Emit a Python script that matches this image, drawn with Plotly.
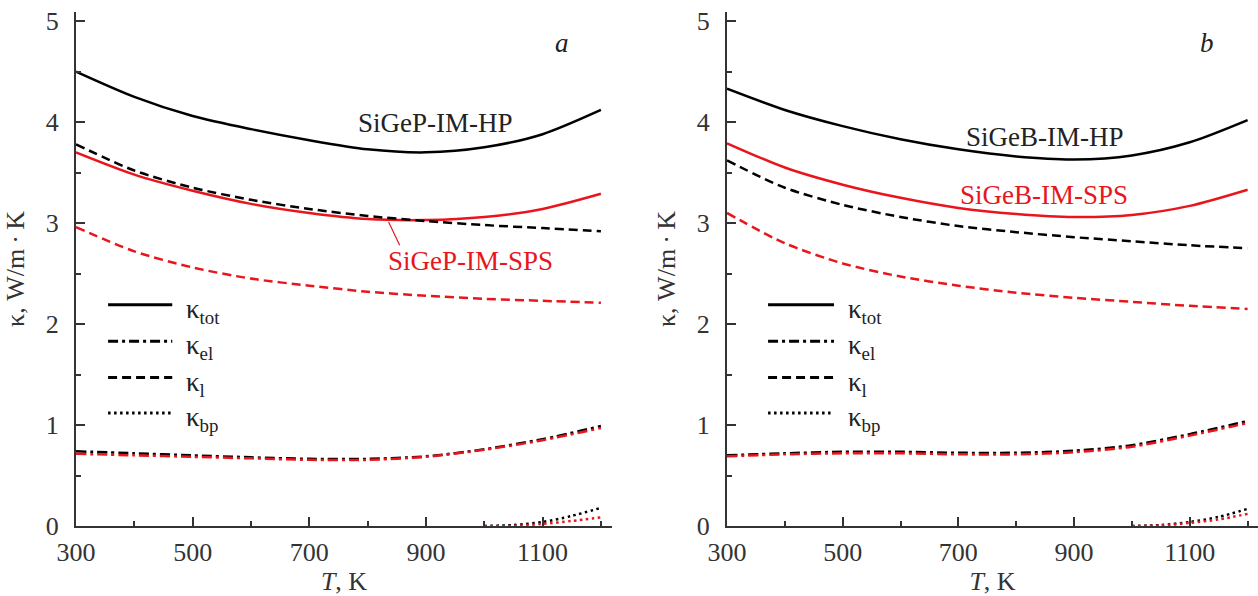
import plotly.graph_objects as go

# Temperature grid (K)
T = [300, 400, 500, 600, 700, 800, 900, 1000, 1100, 1200]
T_BP = [1000, 1050, 1100, 1150, 1200]

# Panel a: SiGeP (HP = black, SPS = red), W/(m K)
a_tot_hp = [4.50, 4.25, 4.06, 3.93, 3.82, 3.73, 3.70, 3.75, 3.88, 4.12]
a_tot_sps = [3.70, 3.48, 3.32, 3.19, 3.10, 3.04, 3.03, 3.06, 3.14, 3.29]
a_lat_hp = [3.78, 3.52, 3.35, 3.23, 3.14, 3.07, 3.02, 2.98, 2.95, 2.92]
a_lat_sps = [2.96, 2.72, 2.56, 2.45, 2.38, 2.32, 2.28, 2.25, 2.23, 2.21]
a_el_hp = [0.74, 0.72, 0.70, 0.68, 0.665, 0.665, 0.69, 0.76, 0.86, 0.99]
a_el_sps = [0.715, 0.70, 0.685, 0.67, 0.655, 0.655, 0.685, 0.755, 0.85, 0.97]
a_bp_hp = [0.0, 0.01, 0.04, 0.10, 0.18]
a_bp_sps = [0.0, 0.0, 0.02, 0.05, 0.085]

# Panel b: SiGeB
b_tot_hp = [4.33, 4.12, 3.96, 3.83, 3.73, 3.66, 3.63, 3.67, 3.80, 4.02]
b_tot_sps = [3.79, 3.55, 3.38, 3.25, 3.15, 3.09, 3.06, 3.08, 3.17, 3.33]
b_lat_hp = [3.62, 3.35, 3.18, 3.06, 2.97, 2.91, 2.86, 2.82, 2.78, 2.75]
b_lat_sps = [3.10, 2.80, 2.60, 2.47, 2.38, 2.31, 2.26, 2.22, 2.18, 2.15]
b_el_hp = [0.70, 0.72, 0.735, 0.735, 0.725, 0.725, 0.745, 0.80, 0.91, 1.04]
b_el_sps = [0.69, 0.71, 0.72, 0.72, 0.71, 0.71, 0.73, 0.785, 0.895, 1.02]
b_bp_hp = [0.0, 0.01, 0.04, 0.09, 0.17]
b_bp_sps = [0.0, 0.005, 0.03, 0.065, 0.12]

X_TICKS = [300, 500, 700, 900, 1100]
Y_TICKS = [0, 1, 2, 3, 4, 5]

BLACK = "#000000"
RED = "#e8161c"
AXIS = "#333333"
TEXT = "#222222"
FONT = "Liberation Serif"
LW = 2.5

DASH = {"tot": "solid", "el": "10px,4px,3px,4px", "lat": "9px,5px", "bp": "2.5px,3.5px"}

fig = go.Figure()


def add_curve(x, y, color, dash, axis):
    fig.add_trace(go.Scatter(
        x=x, y=y, mode="lines",
        line=dict(color=color, width=LW, dash=dash, shape="spline", smoothing=0.8),
        xaxis="x" if axis == 1 else "x2",
        yaxis="y" if axis == 1 else "y2",
        showlegend=False, hoverinfo="skip",
    ))


panels = [
    (1, a_tot_hp, a_tot_sps, a_lat_hp, a_lat_sps, a_el_hp, a_el_sps, a_bp_hp, a_bp_sps),
    (2, b_tot_hp, b_tot_sps, b_lat_hp, b_lat_sps, b_el_hp, b_el_sps, b_bp_hp, b_bp_sps),
]
for ax, tot_hp, tot_sps, lat_hp, lat_sps, el_hp, el_sps, bp_hp, bp_sps in panels:
    add_curve(T, tot_hp, BLACK, DASH["tot"], ax)
    add_curve(T, tot_sps, RED, DASH["tot"], ax)
    add_curve(T, lat_hp, BLACK, DASH["lat"], ax)
    add_curve(T, lat_sps, RED, DASH["lat"], ax)
    add_curve(T, el_hp, BLACK, DASH["el"], ax)
    add_curve(T, el_sps, RED, DASH["el"], ax)
    add_curve(T_BP, bp_hp, BLACK, DASH["bp"], ax)
    add_curve(T_BP, bp_sps, RED, DASH["bp"], ax)

H = 596.0
ydom = [1 - 526 / H, 1 - 12 / H]
tick_font = dict(family=FONT, size=26, color=AXIS)


def xaxis(domain, rng, anchor):
    return dict(
        domain=domain, range=rng, anchor=anchor,
        tickmode="array", tickvals=X_TICKS, ticktext=[str(v) for v in X_TICKS],
        ticks="inside", ticklen=9, tickwidth=1.5, tickcolor=AXIS,
        minor=dict(dtick=100, tick0=300, ticks="inside", ticklen=5, tickwidth=1.5, tickcolor=AXIS),
        showline=True, linecolor=AXIS, linewidth=2, showgrid=False, zeroline=False,
        tickfont=tick_font, ticklabelstandoff=2,
        title=dict(text="<i>T</i>, K", font=tick_font, standoff=0),
        automargin=False,
    )


def yaxis(anchor):
    return dict(
        domain=ydom, range=[0, 5.09], anchor=anchor,
        tickmode="array", tickvals=Y_TICKS, ticktext=[str(v) for v in Y_TICKS],
        ticks="inside", ticklen=9, tickwidth=1.5, tickcolor=AXIS,
        minor=dict(dtick=0.5, tick0=0, ticks="inside", ticklen=5, tickwidth=1.5, tickcolor=AXIS),
        showline=True, linecolor=AXIS, linewidth=2, showgrid=False, zeroline=False,
        tickfont=tick_font, ticklabelstandoff=10,
        title=dict(text="κ, W/m\u2009·\u2009K", font=tick_font, standoff=14),
        automargin=False,
    )


fig.update_layout(
    width=1258, height=596,
    margin=dict(l=0, r=0, t=0, b=0),
    paper_bgcolor="white", plot_bgcolor="white",
    showlegend=False,
    font=dict(family=FONT, size=26, color=TEXT),
    xaxis=xaxis([76 / 1258, 612 / 1258], [300, 1219], "y"),
    yaxis=yaxis("x"),
    xaxis2=xaxis([727 / 1258, 1.0], [300, 1218], "y2"),
    yaxis2=yaxis("x2"),
)

annotations = []
shapes = []

# Sample labels
LBL = 27
annotations += [
    dict(x=916, y=3.99, xref="x", yref="y", text="SiGeP-IM-HP", showarrow=False,
         font=dict(family=FONT, size=LBL, color=TEXT)),
    dict(x=976, y=2.62, xref="x", yref="y", text="SiGeP-IM-SPS", showarrow=False,
         font=dict(family=FONT, size=LBL, color=RED)),
    dict(x=850, y=3.85, xref="x2", yref="y2", text="SiGeB-IM-HP", showarrow=False,
         font=dict(family=FONT, size=LBL, color=TEXT)),
    dict(x=848, y=3.28, xref="x2", yref="y2", text="SiGeB-IM-SPS", showarrow=False,
         font=dict(family=FONT, size=LBL, color=RED)),
    dict(x=1133, y=4.78, xref="x", yref="y", text="<i>a</i>", showarrow=False,
         font=dict(family=FONT, size=LBL, color=TEXT)),
    dict(x=1130, y=4.78, xref="x2", yref="y2", text="<i>b</i>", showarrow=False,
         font=dict(family=FONT, size=LBL, color=TEXT)),
]
# Pointer from the SPS label to its curve
shapes.append(dict(type="line", xref="x", yref="y", x0=836, y0=3.01, x1=855, y1=2.78,
                   line=dict(color=RED, width=1.2)))

# Line-style key, drawn in each panel
KEY_ROWS = [("tot", "κ<sub>tot</sub>", 2.19), ("el", "κ<sub>el</sub>", 1.83),
            ("lat", "κ<sub>l</sub>", 1.47), ("bp", "κ<sub>bp</sub>", 1.12)]
for xr, yr, x0, x1, xt in [("x", "y", 355, 465, 486), ("x2", "y2", 371, 485, 505)]:
    for key, txt, yv in KEY_ROWS:
        shapes.append(dict(type="line", xref=xr, yref=yr, x0=x0, x1=x1, y0=yv, y1=yv,
                           line=dict(color=BLACK, width=3, dash=DASH[key])))
        annotations.append(dict(x=xt, y=yv, xref=xr, yref=yr, text=txt, showarrow=False,
                                xanchor="left", yanchor="middle", yshift=-6,
                                font=dict(family=FONT, size=LBL, color=TEXT)))

fig.update_layout(annotations=annotations, shapes=shapes)

fig.write_html("out.html")
